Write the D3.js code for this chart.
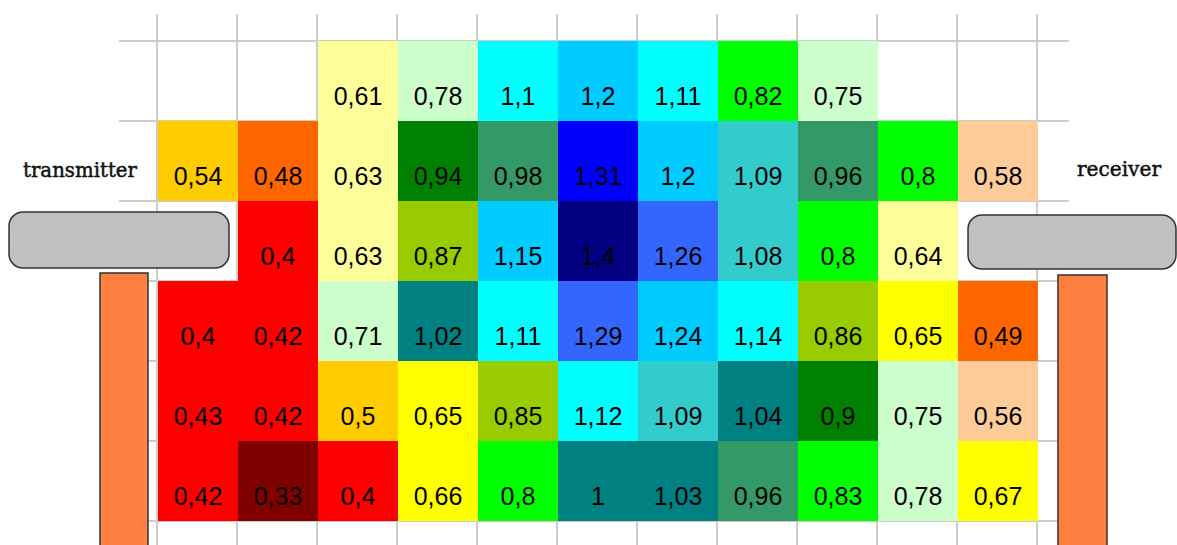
<!DOCTYPE html>
<html>
<head>
<meta charset="utf-8">
<script src="https://cdn.jsdelivr.net/npm/d3@7"></script>
<style>
  html, body { margin: 0; padding: 0; background: #ffffff; }
  svg { display: block; }
</style>
</head>
<body>
<svg id="chart" width="1177" height="545"></svg>
<script>
// Measurement grid: 6 rows x 11 columns, null = no measurement
const columns = [0, 1, 2, 3, 4, 5, 6, 7, 8, 9, 10];
const rows = [0, 1, 2, 3, 4, 5];
const row0 = [null, null, 0.61, 0.78, 1.1, 1.2, 1.11, 0.82, 0.75, null, null];
const row1 = [0.54, 0.48, 0.63, 0.94, 0.98, 1.31, 1.2, 1.09, 0.96, 0.8, 0.58];
const row2 = [null, 0.4, 0.63, 0.87, 1.15, 1.4, 1.26, 1.08, 0.8, 0.64, null];
const row3 = [0.4, 0.42, 0.71, 1.02, 1.11, 1.29, 1.24, 1.14, 0.86, 0.65, 0.49];
const row4 = [0.43, 0.42, 0.5, 0.65, 0.85, 1.12, 1.09, 1.04, 0.9, 0.75, 0.56];
const row5 = [0.42, 0.33, 0.4, 0.66, 0.8, 1, 1.03, 0.96, 0.83, 0.78, 0.67];
const grid = [row0, row1, row2, row3, row4, row5];

// Value classes and their fill colours
const classBreaks = [0.35, 0.45, 0.5, 0.55, 0.6, 0.65, 0.7, 0.8, 0.85, 0.9, 0.95, 1.0, 1.05, 1.1, 1.15, 1.25, 1.3, 1.35];
const classColors = ["#800000", "#ff0000", "#ff6600", "#ffcc00", "#ffcc99", "#ffff99", "#ffff00", "#ccffcc",
                     "#00ff00", "#99cc00", "#008000", "#339966", "#008080", "#33cccc", "#00ffff", "#00ccff",
                     "#3366ff", "#0000ff", "#000080"];

const antennaLabels = ["transmitter", "receiver"];

const svg = d3.select("#chart");

const x = d3.scaleBand().domain(columns).range([158, 1038]).padding(0);
const y = d3.scaleBand().domain(rows).range([41, 521]).padding(0);
const color = d3.scaleThreshold().domain(classBreaks).range(classColors);

const fmt = v => String(v).replace(".", ",");

// Background grid
const gridG = svg.append("g").attr("stroke", "#cccccc").attr("stroke-width", 2);
const xEdges = columns.map(c => x(c)).concat([x(10) + x.bandwidth()]);
const yEdges = rows.map(r => y(r)).concat([y(5) + y.bandwidth()]);
gridG.selectAll("line.v").data(xEdges).join("line")
  .attr("class", "v")
  .attr("x1", d => d - 1).attr("x2", d => d - 1)
  .attr("y1", 14).attr("y2", 545);
gridG.selectAll("line.h").data(yEdges).join("line")
  .attr("class", "h")
  .attr("x1", 119).attr("x2", 1069)
  .attr("y1", d => d).attr("y2", d => d);

// Cells
const cells = [];
grid.forEach((vals, r) => vals.forEach((v, c) => { if (v !== null) cells.push({ r, c, v }); }));

svg.append("g").selectAll("rect").data(cells).join("rect")
  .attr("x", d => x(d.c))
  .attr("y", d => y(d.r))
  .attr("width", x.bandwidth())
  .attr("height", y.bandwidth())
  .attr("fill", d => color(d.v));

svg.append("g").selectAll("text").data(cells).join("text")
  .attr("x", d => x(d.c) + x.bandwidth() / 2)
  .attr("y", d => y(d.r) + 64)
  .attr("text-anchor", "middle")
  .attr("font-family", "'Liberation Sans', Arial, sans-serif")
  .attr("font-size", 25)
  .attr("fill", "#000000")
  .text(d => fmt(d.v));

// Antenna shapes
const deco = svg.append("g").attr("stroke", "#333333").attr("stroke-width", 1.5);
deco.append("rect").attr("x", 9).attr("y", 212).attr("width", 220).attr("height", 56)
  .attr("rx", 14).attr("ry", 14).attr("fill", "#c0c0c0");
deco.append("rect").attr("x", 968).attr("y", 215).attr("width", 208).attr("height", 54)
  .attr("rx", 14).attr("ry", 14).attr("fill", "#c0c0c0");
deco.append("rect").attr("x", 100).attr("y", 273).attr("width", 48).attr("height", 300)
  .attr("fill", "#ff8040");
deco.append("rect").attr("x", 1058).attr("y", 275).attr("width", 49).attr("height", 300)
  .attr("fill", "#ff8040");

// Antenna labels
const labelG = svg.append("g")
  .attr("font-family", "'DejaVu Serif', 'Liberation Serif', serif")
  .attr("font-size", 21)
  .attr("fill", "#111111")
  .attr("stroke", "#111111")
  .attr("stroke-width", 0.5);
labelG.append("text").attr("x", 23).attr("y", 177)
  .attr("textLength", 114).attr("lengthAdjust", "spacingAndGlyphs")
  .text(antennaLabels[0]);
labelG.append("text").attr("x", 1077).attr("y", 176)
  .attr("textLength", 84).attr("lengthAdjust", "spacingAndGlyphs")
  .text(antennaLabels[1]);
</script>
</body>
</html>
